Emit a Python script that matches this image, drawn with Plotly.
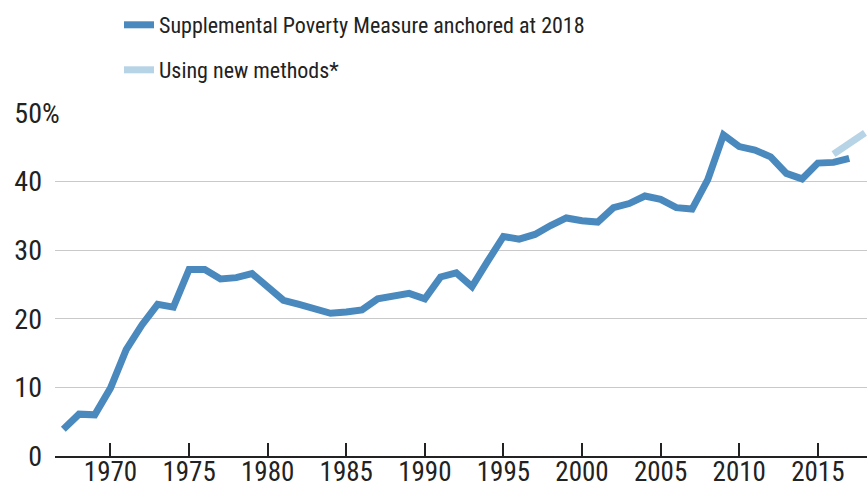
import plotly.graph_objects as go

# ---------------- data ----------------
years = list(range(1967, 2018))
spm_anchored = [
    3.9, 6.1, 6.0, 9.9, 15.5, 19.1, 22.1, 21.7, 27.2, 27.2,   # 1967-1976
    25.8, 26.0, 26.6, 24.7, 22.7, 22.1, 21.5, 20.8, 21.0, 21.3,  # 1977-1986
    22.9, 23.3, 23.7, 22.9, 26.1, 26.7, 24.7, 28.4, 32.0, 31.6,  # 1987-1996
    32.3, 33.6, 34.7, 34.3, 34.1, 36.2, 36.8, 37.9, 37.4, 36.2,  # 1997-2006
    36.0, 40.3, 46.8, 45.1, 44.6, 43.6, 41.2, 40.4, 42.7, 42.8,  # 2007-2016
    43.4,                                                         # 2017
]
new_years = [2016, 2017, 2018]
new_methods = [44.0, 45.7, 47.1]

x_tick_years = [1970, 1975, 1980, 1985, 1990, 1995, 2000, 2005, 2010, 2015]
y_tick_vals = [0, 10, 20, 30, 40, 50]
y_tick_text = ["0", "10", "20", "30", "40", "50"]

series_names = ["Supplemental Poverty Measure anchored at 2018", "Using new methods*"]

# ---------------- styles ----------------
FONT = "Liberation Sans Narrow, Arial Narrow, Roboto Condensed, sans-serif"
TXT = "#222222"
DARK_BLUE = "#4a89bd"
LIGHT_BLUE = "#b7d3e6"

W, H = 867, 491
ML, MR, MT, MB = 55, 0, 113, 35

fig = go.Figure()
fig.add_trace(go.Scatter(
    x=years, y=spm_anchored, mode="lines", name=series_names[0],
    line=dict(color=DARK_BLUE, width=7), legend="legend",
))
fig.add_trace(go.Scatter(
    x=new_years, y=new_methods, mode="lines", name=series_names[1],
    line=dict(color=LIGHT_BLUE, width=7), legend="legend2",
))

plot_h = H - MT - MB
plot_w = W - ML - MR

def py(pix_y):
    return (H - MB - pix_y) / plot_h

def px(pix_x):
    return (pix_x - ML) / plot_w

fig.update_layout(
    width=W, height=H,
    margin=dict(l=ML, r=MR, t=MT, b=MB, pad=0, autoexpand=False),
    paper_bgcolor="white", plot_bgcolor="white",
    font=dict(family=FONT, color=TXT, size=28),
    showlegend=True,
    legend=dict(x=px(119), y=py(25), xanchor="left", yanchor="middle",
                bgcolor="rgba(0,0,0,0)", font=dict(size=22, family=FONT, color=TXT)),
    legend2=dict(x=px(119), y=py(70), xanchor="left", yanchor="middle",
                 bgcolor="rgba(0,0,0,0)", font=dict(size=22, family=FONT, color=TXT)),
    xaxis=dict(
        range=[1966.47, 2018.13],
        tickmode="array", tickvals=x_tick_years,
        ticks="inside", ticklen=13, tickwidth=2, tickcolor=TXT,
        showline=True, linecolor=TXT, linewidth=2,
        showgrid=False, zeroline=False,
        ticklabelstandoff=-9,
        tickfont=dict(size=27, family=FONT, color=TXT),
        fixedrange=True, automargin=False,
    ),
    yaxis=dict(
        range=[0, 50],
        tickmode="array", tickvals=y_tick_vals, ticktext=y_tick_text,
        showgrid=True, gridcolor="#c9c9c9", gridwidth=1,
        zeroline=False, showline=False, ticks="",
        ticklabelstandoff=12,
        tickfont=dict(size=28, family=FONT, color=TXT),
        fixedrange=True, automargin=False,
    ),
)

# "%" after the top tick label, gridline cut behind it
fig.add_shape(type="rect", xref="paper", yref="y",
              x0=0, x1=px(75), y0=49.6, y1=50.4,
              fillcolor="white", line=dict(width=0), layer="above")
fig.add_annotation(text="%", xref="paper", yref="y", x=px(40), y=50,
                   xanchor="left", yanchor="middle", showarrow=False,
                   font=dict(size=28, family=FONT, color=TXT))

fig.write_html(
    "out.html",
    config={"displayModeBar": False},
    post_script="document.body.style.margin='0px';document.body.style.padding='0px';",
)
